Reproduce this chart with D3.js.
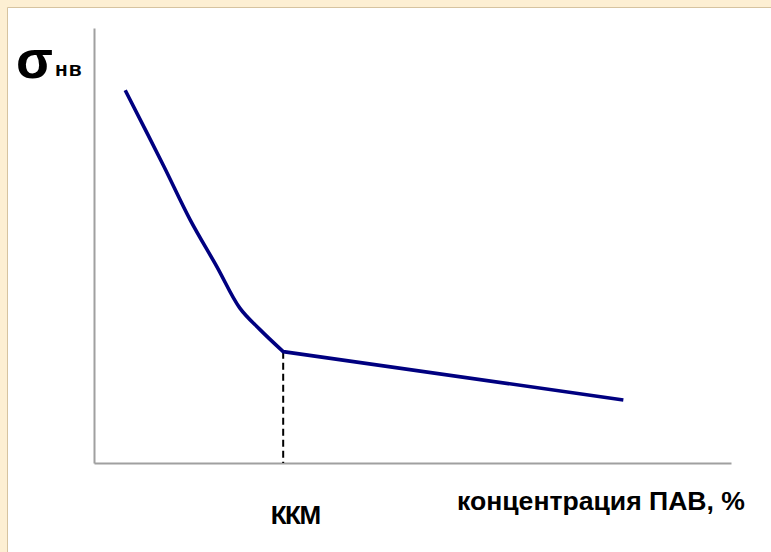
<!DOCTYPE html>
<html><head><meta charset="utf-8">
<script src="https://cdn.jsdelivr.net/npm/d3@7"></script>
<style>html,body{margin:0;padding:0;background:#fff;}svg{display:block;}</style>
</head><body>
<script>
// concentration (arbitrary units) and interfacial tension σнв (arbitrary units)
const concentration = [4.9, 10.9, 15.1, 19.3, 22.9, 26.1, 29.7, 83.1];
const sigma = [85.7, 68.4, 55.9, 45.1, 35.6, 30.6, 25.6, 14.5];
const cmcValue = 29.7;
const cmcLabel = "ККМ";
const xTitle = "концентрация ПАВ, %";
const yTitleMain = "σ";
const yTitleSub = "нв";

const W = 771, H = 552;
const svg = d3.select("body").append("svg").attr("width", W).attr("height", H);

// frame
svg.append("rect").attr("x",0).attr("y",0).attr("width",W).attr("height",H).attr("fill","#fdefd3");
svg.append("rect").attr("x",8).attr("y",8).attr("width",W-8).attr("height",H-8).attr("fill","#fff");
svg.append("line").attr("x1",7.5).attr("x2",7.5).attr("y1",7.5).attr("y2",H).attr("stroke","#d6c3a0").attr("stroke-width",1);
svg.append("line").attr("x1",7.5).attr("x2",W).attr("y1",7.5).attr("y2",7.5).attr("stroke","#d6c3a0").attr("stroke-width",1);

const x = d3.scaleLinear().domain([0,100]).range([94,731]);
const y = d3.scaleLinear().domain([0,100]).range([463,28]);

// axes
const xAxis = d3.axisBottom(x).tickValues([]).tickSizeOuter(0);
const yAxis = d3.axisLeft(y).tickValues([]).tickSizeOuter(0);
const gx = svg.append("g").attr("transform",`translate(0,${y(0)})`).call(xAxis);
const gy = svg.append("g").attr("transform",`translate(${x(0)},0)`).call(yAxis);
[gx,gy].forEach(g=>g.select(".domain").attr("stroke","#a0a0a0").attr("stroke-width",2));

// dashed CMC line
const iCmc = concentration.indexOf(cmcValue);
const sigmaAtCmc = sigma[iCmc];
svg.append("line")
  .attr("x1",x(cmcValue)).attr("x2",x(cmcValue))
  .attr("y1",y(sigmaAtCmc)).attr("y2",y(0))
  .attr("stroke","#000").attr("stroke-width",2).attr("stroke-dasharray","7,4");

// curve: smooth descending part, straight part after CMC
const data = concentration.map((c,i)=>({c, s:sigma[i]}));
const before = data.slice(0, iCmc+1), after = data.slice(iCmc);
const line = d3.line().x(d=>x(d.c)).y(d=>y(d.s));
svg.append("path")
  .attr("fill","none").attr("stroke","#000080").attr("stroke-width",3.6)
  .attr("stroke-linejoin","round").attr("stroke-linecap","butt")
  .attr("d", line.curve(d3.curveCatmullRom.alpha(0.5))(before) + line.curve(d3.curveLinear)(after).replace(/^M/,"L"));

// labels
const font = "'Liberation Sans', Arial, sans-serif";
svg.append("text").attr("x",16).attr("y",78).attr("font-family",font).attr("font-weight","bold")
  .attr("font-size",54).attr("fill","#000").text(yTitleMain);
svg.append("text").attr("x",55).attr("y",76).attr("font-family",font).attr("font-weight","bold")
  .attr("font-size",21).attr("letter-spacing",1).attr("fill","#000").text(yTitleSub);
svg.append("text").attr("x",x(cmcValue)+12).attr("y",524).attr("text-anchor","middle")
  .attr("font-family",font).attr("font-weight","bold").attr("font-size",26).attr("letter-spacing",-1.5)
  .attr("fill","#000").text(cmcLabel);
svg.append("text").attr("x",457).attr("y",510).attr("font-family",font).attr("font-weight","bold")
  .attr("font-size",25).attr("textLength",288).attr("lengthAdjust","spacingAndGlyphs").attr("fill","#000").text(xTitle);
</script>
</body></html>
